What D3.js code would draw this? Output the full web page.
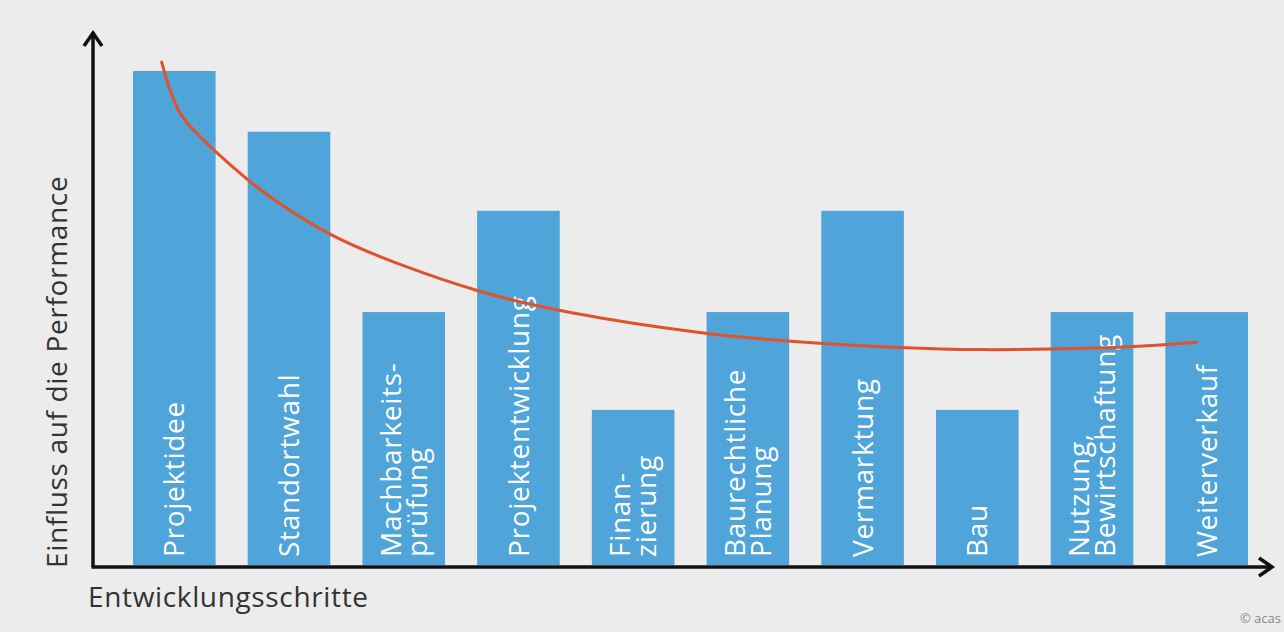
<!DOCTYPE html>
<html>
<head>
<meta charset="utf-8">
<script src="https://cdn.jsdelivr.net/npm/d3@7"></script>
<style>
  html, body { margin: 0; padding: 0; background: #ececec; }
  svg { display: block; font-family: "Open Sans", Lato, sans-serif; }
</style>
</head>
<body>
<div id="chart"></div>
<script>
// Kategorien (Entwicklungsschritte), mit Zeilenumbruch für die Beschriftung
var categories = ["Projektidee", "Standortwahl", "Machbarkeitsprüfung", "Projektentwicklung",
    "Finanzierung", "Baurechtliche Planung", "Vermarktung", "Bau",
    "Nutzung, Bewirtschaftung", "Weiterverkauf"];
var labelLines = [["Projektidee"], ["Standortwahl"], ["Machbarkeits-", "prüfung"], ["Projektentwicklung"],
    ["Finan-", "zierung"], ["Baurechtliche", "Planung"], ["Vermarktung"], ["Bau"],
    ["Nutzung,", "Bewirtschaftung"], ["Weiterverkauf"]];
// Einfluss auf die Performance (relative Werte)
var influence = [100, 87.7, 51.2, 71.7, 31.4, 51.2, 71.7, 31.4, 51.2, 51.2];

// Trendkurve: Position (in Schritten, 0 = erster Balken) und Wert
var curveStep = [-0.11, -0.06, 0.03, 0.14, 0.36, 0.64, 0.84, 1.36, 1.97, 2.64, 3.36, 4.64, 5.45, 6.35, 7.05, 7.63, 8.36, 8.91];
var curveValue = [101.8, 97.5, 91.8, 88.6, 83.6, 77.9, 74.3, 66.4, 60.7, 55.3, 51.2, 46.6, 45.1, 43.9, 43.5, 43.7, 44.1, 45.1];

var W = 1284, H = 632;
var plot = { left: 133, right: 1248, top: 71, bottom: 565 };

var svg = d3.select("#chart")
    .append("svg")
    .attr("width", W)
    .attr("height", H);

svg.append("rect").attr("width", W).attr("height", H).attr("fill", "#ececec");

var x = d3.scaleBand()
    .domain(categories)
    .range([plot.left, plot.right])
    .paddingInner(0.28)
    .paddingOuter(0);

var y = d3.scaleLinear()
    .domain([0, 100])
    .range([plot.bottom, plot.top]);

// Balken
svg.append("g")
    .selectAll("rect")
    .data(categories)
    .enter().append("rect")
    .attr("x", function (d) { return x(d); })
    .attr("y", function (d, i) { return y(influence[i]); })
    .attr("width", x.bandwidth())
    .attr("height", function (d, i) { return y(0) - y(influence[i]); })
    .attr("fill", "#4fa4d9");

// Beschriftung in den Balken (gedreht)
var labels = svg.append("g")
    .selectAll("text")
    .data(categories)
    .enter().append("text")
    .attr("transform", function (d) {
        return "translate(" + (x(d) + x.bandwidth() / 2) + "," + (y(0) - 8) + ") rotate(-90)";
    })
    .attr("fill", "#ffffff")
    .attr("font-size", 28)
    .attr("letter-spacing", 0.7)
    .attr("text-anchor", "start");

labels.each(function (d, i) {
    var lines = labelLines[i];
    var t = d3.select(this);
    var lh = 26;
    lines.forEach(function (l, j) {
        var off = (j - (lines.length - 1) / 2) * lh;
        t.append("tspan")
            .attr("x", 0)
            .attr("y", off)
            .attr("dy", "0.36em")
            .text(l);
    });
});

// Trendkurve
var xStep = d3.scaleLinear()
    .domain([0, categories.length - 1])
    .range([x(categories[0]) + x.bandwidth() / 2, x(categories[categories.length - 1]) + x.bandwidth() / 2]);

var curvePts = curveStep.map(function (s, i) { return [s, curveValue[i]]; });
var line = d3.line()
    .x(function (d) { return xStep(d[0]); })
    .y(function (d) { return y(d[1]); })
    .curve(d3.curveBasis);

svg.append("path")
    .datum(curvePts)
    .attr("d", line)
    .attr("fill", "none")
    .attr("stroke", "#e0522a")
    .attr("stroke-width", 3)
    .attr("stroke-linecap", "round");

// Achsen mit Pfeilspitzen
var axisX0 = 93, axisY0 = 567;
svg.append("path")
    .attr("d", "M" + axisX0 + "," + axisY0 + "V32")
    .attr("stroke", "#111").attr("stroke-width", 3.5).attr("fill", "none");
svg.append("path")
    .attr("d", "M" + (axisX0 - 9) + ",46L" + axisX0 + ",33L" + (axisX0 + 9) + ",46")
    .attr("stroke", "#111").attr("stroke-width", 3.5).attr("fill", "none")
    .attr("stroke-linejoin", "miter");

svg.append("path")
    .attr("d", "M" + (axisX0 - 1.5) + "," + axisY0 + "H1272")
    .attr("stroke", "#111").attr("stroke-width", 3.5).attr("fill", "none");
svg.append("path")
    .attr("d", "M1259," + (axisY0 - 9) + "L1272," + axisY0 + "L1259," + (axisY0 + 9))
    .attr("stroke", "#111").attr("stroke-width", 3.5).attr("fill", "none");

// Achsentitel
svg.append("text")
    .attr("x", 88)
    .attr("y", 607)
    .attr("font-size", 28)
    .attr("letter-spacing", 0.65)
    .attr("fill", "#333")
    .text("Entwicklungsschritte");

svg.append("text")
    .attr("transform", "translate(67,568) rotate(-90)")
    .attr("font-size", 28)
    .attr("letter-spacing", 0.67)
    .attr("fill", "#333")
    .text("Einfluss auf die Performance");

svg.append("text")
    .attr("x", 1281)
    .attr("y", 623)
    .attr("font-size", 13)
    .attr("text-anchor", "end")
    .attr("fill", "#888")
    .text("© acas");
</script>
</body>
</html>
